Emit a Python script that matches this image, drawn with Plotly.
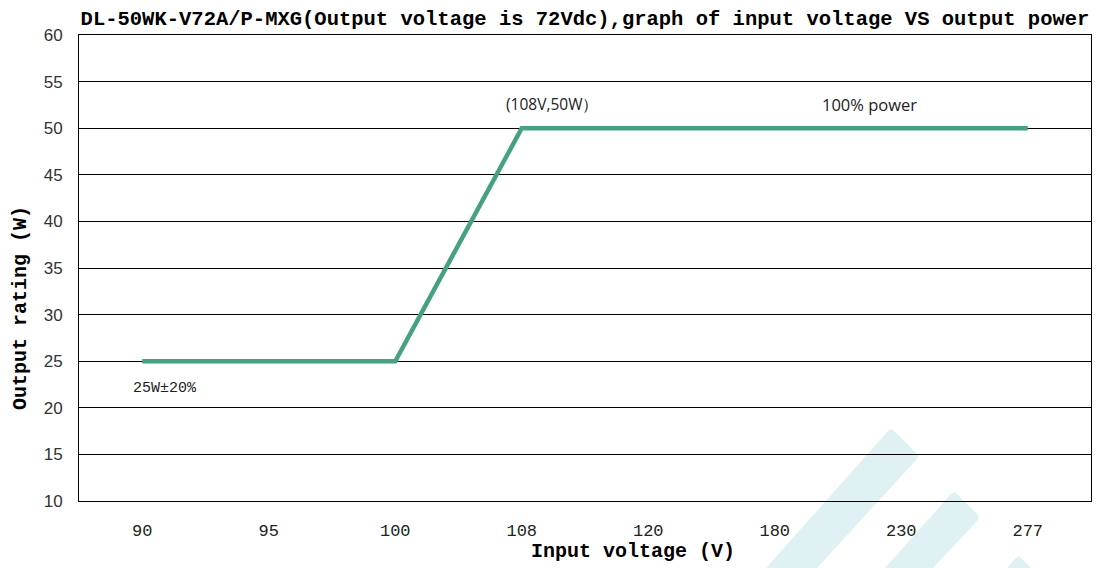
import plotly.graph_objects as go

# ---- data ----
input_voltage = ["90", "95", "100", "108", "120", "180", "230", "277"]
output_power = [25, 25, 25, 50, 50, 50, 50, 50]
y_ticks = [10, 15, 20, 25, 30, 35, 40, 45, 50, 55, 60]

title_text = "DL-50WK-V72A/P-MXG(Output voltage is 72Vdc),graph of input voltage VS output power"
x_title = "Input voltage (V)"
y_title = "Output rating (W)"

W, H = 1096, 568
ML, MR, MT, MB = 79, 5, 35, 67
PW, PH = W - ML - MR, H - MT - MB

LINE_COLOR = "#45a084"
WM_COLOR = "rgba(212,236,238,0.75)"

fig = go.Figure()
fig.add_trace(go.Scatter(
    x=input_voltage, y=output_power, mode="lines",
    line=dict(color=LINE_COLOR, width=4.5),
    hoverinfo="x+y", showlegend=False,
))


def pp(x, y):
    return (x - ML) / PW, (MT + PH - y) / PH


def path(points):
    pts = [pp(*p) for p in points]
    s = "M {:.4f},{:.4f} ".format(*pts[0])
    for p in pts[1:]:
        s += "L {:.4f},{:.4f} ".format(*p)
    return s + "Z"


watermark = [
    [(888, 431), (892, 429), (918, 455), (917, 459), (817, 568), (766, 568)],
    [(951, 494), (955, 492), (979, 516), (978, 520), (933, 568), (885, 568)],
    [(1015, 559), (1019, 556), (1031, 568), (1007, 568)],
]
shapes = [dict(type="path", xref="paper", yref="paper", path=path(p),
               fillcolor=WM_COLOR, line=dict(width=0), layer="below")
          for p in watermark]

annotations = [
    dict(text="(108V,50W）", x=3.24, y=52.6, xref="x", yref="y", showarrow=False,
         font=dict(family="Open Sans, Liberation Sans", size=15.5, color="#222")),
    dict(text="100% power", x=5.75, y=52.5, xref="x", yref="y", showarrow=False,
         font=dict(family="Open Sans, Liberation Sans", size=16.5, color="#222")),
    dict(text="25W±20%", x=0.18, y=22.1, xref="x", yref="y", showarrow=False,
         font=dict(family="Liberation Mono", size=15, color="#222")),
    dict(text="<b>" + x_title + "</b>", x=(633 - ML) / PW, y=(MT + PH - 551) / PH,
         xref="paper", yref="paper", showarrow=False, xanchor="center", yanchor="middle",
         font=dict(family="Liberation Mono", size=20, color="#000")),
    dict(text="<b>" + y_title + "</b>", x=(20 - ML) / PW, y=(MT + PH - 308) / PH,
         xref="paper", yref="paper", showarrow=False, textangle=-90,
         xanchor="center", yanchor="middle",
         font=dict(family="Liberation Mono", size=20, color="#000")),
]

fig.update_layout(
    width=W, height=H,
    margin=dict(l=ML, r=MR, t=MT, b=MB, autoexpand=False),
    paper_bgcolor="white", plot_bgcolor="rgba(0,0,0,0)",
    title=dict(text="<b>" + title_text + "</b>", x=585 / W, xanchor="center",
               y=1 - 18 / H, yanchor="middle", automargin=False,
               font=dict(family="Liberation Mono", size=20.5, color="#000")),
    shapes=shapes,
    annotations=annotations,
    xaxis=dict(type="category", categoryorder="array", categoryarray=input_voltage,
               range=[-0.5, 7.5], showgrid=False, showline=True, linecolor="#000",
               linewidth=1, mirror=True, ticks="", ticklabelstandoff=14,
               automargin=False,
               tickfont=dict(family="Liberation Mono", size=17, color="#222"),
               zeroline=False),
    yaxis=dict(range=[10, 60], tickvals=y_ticks, showgrid=True, gridcolor="#000",
               gridwidth=1, showline=True, linecolor="#000", linewidth=1, mirror=True,
               ticks="", ticklabelstandoff=12, automargin=False,
               tickfont=dict(family="Liberation Sans", size=17, color="#333"),
               zeroline=False),
)

fig.write_html(
    "out.html",
    config={"displayModeBar": False},
    post_script="document.body.style.margin='0';document.body.style.padding='0';"
                "document.body.style.overflow='hidden';",
)
